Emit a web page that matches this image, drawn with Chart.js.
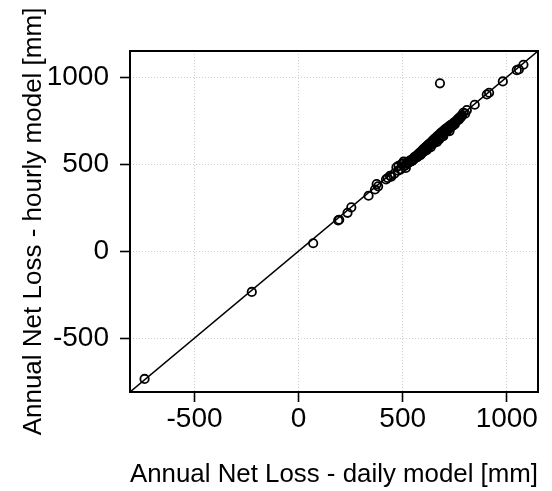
<!DOCTYPE html>
<html>
<head>
<meta charset="utf-8">
<script src="https://cdn.jsdelivr.net/npm/chart.js@4"></script>
<style>
  html, body { margin: 0; padding: 0; background: #fff; }
  canvas { display: block; }
</style>
</head>
<body>
<canvas id="lossChart" width="552" height="491"></canvas>
<script>
// annual net loss [mm], daily model (x) vs hourly model (y)
const dailyLoss = [
  -740, -225, 70, 190, 195, 235, 253, 336, 367, 375, 382, 420, 428, 439, 445, 460, 470, 478,
  480, 490, 495, 500, 505, 510, 511, 515,
  520, 525, 530, 534, 538, 542, 546, 550, 553, 556, 560, 563, 566, 570, 572, 575, 578, 581,
  584, 587, 590, 593, 596, 598, 601, 604, 607, 610, 613, 616, 619, 622, 625, 628, 631, 634,
  637, 640, 643, 646, 649, 652, 655, 658, 661, 664, 667, 670, 673, 676, 679, 682, 685, 688,
  691, 694, 697, 700, 703, 706, 709, 712, 715, 718, 721, 724, 727, 730, 734, 738, 742, 746,
  750, 755, 760, 765, 770, 775, 781, 786,
  600, 620, 640, 660, 680, 700, 720, 740, 590, 570, 555, 650, 690, 710, 730, 750,
  615, 635, 665, 695, 725, 545, 585, 675,
  760, 770, 780, 791, 800, 808, 846, 904, 915, 981, 1048, 1058, 1080, 679
];
const hourlyLoss = [
  -735, -235, 45, 176, 180, 220, 251, 318, 354, 385, 372, 412, 420, 433, 428, 445, 481, 462,
  490, 470, 500, 504, 515, 490, 494, 478,
  505, 512, 508, 520, 515, 525, 520, 530, 527, 540, 536, 545, 540, 552, 545, 558, 552, 565,
  560, 570, 566, 578, 572, 585, 580, 590, 585, 598, 592, 603, 598, 610, 604, 617, 612, 622,
  618, 630, 625, 637, 632, 645, 640, 650, 646, 658, 652, 664, 660, 670, 665, 678, 672, 683,
  678, 690, 686, 696, 690, 702, 697, 706, 702, 712, 708, 718, 714, 724, 720, 730, 728, 738,
  735, 745, 752, 758, 765, 768, 777, 780,
  570, 590, 612, 635, 655, 680, 700, 720, 560, 540, 535, 620, 665, 688, 712, 728,
  580, 598, 628, 660, 690, 518, 552, 642,
  748, 755, 770, 795, 790, 810, 841, 900, 910, 975, 1040, 1044, 1071, 964
];

const axisMin = -810;
const axisMax = 1150;
const tickValues = [-500, 0, 500, 1000];

const xTitle = 'Annual Net Loss - daily model [mm]';
const yTitle = 'Annual Net Loss - hourly model [mm]';

Chart.defaults.font.family = '"Liberation Sans", Arial, sans-serif';
Chart.defaults.color = '#000';

const points = dailyLoss.map((x, i) => ({ x, y: hourlyLoss[i] }));

const plotFrame = {
  id: 'plotFrame',
  afterDatasetsDraw(chart) {
    const { ctx, chartArea: a } = chart;
    ctx.save();
    ctx.strokeStyle = '#000';
    ctx.lineWidth = 2;
    ctx.strokeRect(a.left, a.top, a.right - a.left, a.bottom - a.top);
    ctx.restore();
  }
};

function axisOpts(title, isX) {
  return {
    type: 'linear',
    min: axisMin,
    max: axisMax,
    afterBuildTicks: s => { s.ticks = tickValues.map(v => ({ value: v })); },
    afterFit: s => { if (isX) s.height = 99; else s.width = 130; },
    grid: {
      color: '#cfcfcf',
      lineWidth: 1,
      tickColor: '#000',
      tickWidth: 1.6,
      tickLength: 10,
    },
    border: { display: false, dash: [1, 2] },
    ticks: {
      font: { size: 28 },
      padding: isX ? 0 : 11,
      maxRotation: 0,
      callback: v => String(v),
    },
    title: {
      display: true,
      text: title,
      font: { size: 26 },
      padding: isX ? { top: 0, bottom: 1 } : { top: 18, bottom: 0 },
    },
  };
}

new Chart(document.getElementById('lossChart'), {
  type: 'scatter',
  data: {
    datasets: [
      {
        type: 'line',
        data: [{ x: axisMin, y: axisMin }, { x: axisMax, y: axisMax }],
        borderColor: '#000',
        borderWidth: 1.5,
        pointRadius: 0,
        order: 2,
      },
      {
        data: points,
        pointRadius: 4.2,
        pointBorderWidth: 1.8,
        pointBorderColor: '#000',
        pointBackgroundColor: 'rgba(0,0,0,0)',
        order: 1,
      },
    ],
  },
  options: {
    responsive: false,
    animation: false,
    layout: { padding: { top: 51, right: 14, left: 0, bottom: 0 } },
    plugins: { legend: { display: false }, tooltip: { enabled: false } },
    scales: {
      x: axisOpts(xTitle, true),
      y: axisOpts(yTitle, false),
    },
  },
  plugins: [plotFrame],
});
</script>
</body>
</html>
